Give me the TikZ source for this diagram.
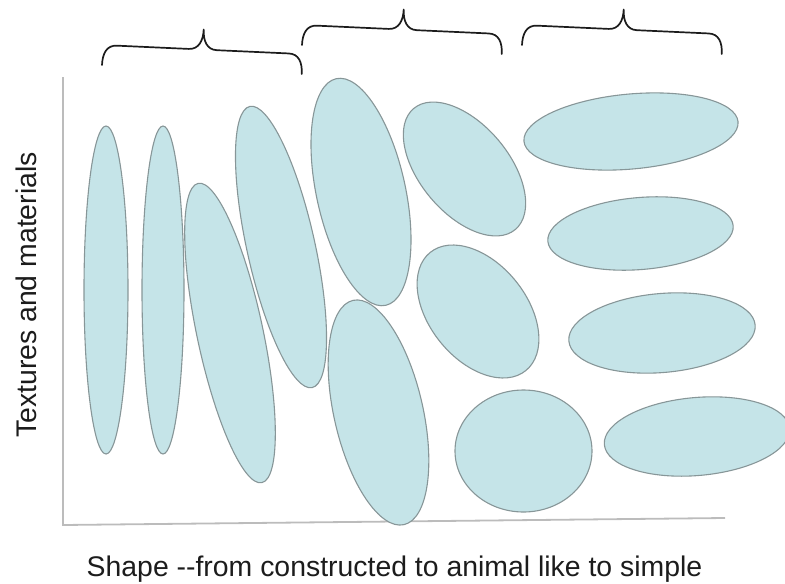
\documentclass[tikz,border=0pt]{standalone}
\usepackage{fontspec}
\setmainfont{Liberation Sans}
\usetikzlibrary{shapes.geometric}
\definecolor{blobfill}{RGB}{197,228,232}
\definecolor{blobline}{RGB}{135,150,152}
\definecolor{axisgray}{RGB}{188,188,188}
\definecolor{inkcol}{RGB}{28,28,28}
\tikzset{
  blob/.style={ellipse, draw=blobline, fill=blobfill, line width=1.1pt, inner sep=0pt, outer sep=0pt},
  axisline/.style={draw=axisgray, line width=1.8pt},
  bracestyle/.style={draw=inkcol, line width=1.7pt, line cap=round, line join=round},
  lbl/.style={text=inkcol, inner sep=0pt, font=\fontsize{28.4}{34}\selectfont},
  mybrace/.pic={
    \draw[bracestyle] (0,0) .. controls (0,-12) and (4,-20) .. (14,-20)
      -- (86,-20) .. controls (96,-20) and (100,-29) .. (100,-40)
      .. controls (100,-29) and (104,-20) .. (114,-20)
      -- (186,-20) .. controls (196,-20) and (200,-12) .. (200,0);
  }
}
\begin{document}
\begin{tikzpicture}[x=1pt,y=-1pt]
\useasboundingbox (0,0) rectangle (785,584);
% axes
\coordinate (ytop) at (63,77);
\coordinate (O) at (63,525);
\coordinate (xend) at (725,518);
\draw[axisline] (ytop) -- (O) -- (xend);
% ellipses
\node[blob, minimum width=44pt, minimum height=328pt] (e1) at (106,290) {};
\node[blob, minimum width=42pt, minimum height=328pt] (e2) at (163,290) {};
\node[blob, minimum width=66pt, minimum height=306pt, rotate=12] (e3) at (230,333) {};
\node[blob, minimum width=68pt, minimum height=288pt, rotate=12.5] (e4) at (281,247) {};
\node[blob, minimum width=89pt, minimum height=232pt, rotate=12.3] (e5) at (361,192) {};
\node[blob, minimum width=89pt, minimum height=230pt, rotate=12.8] (e6) at (378.5,412.5) {};
\node[blob, minimum width=89pt, minimum height=158pt, rotate=40] (e7) at (464.5,169) {};
\node[blob, minimum width=97pt, minimum height=152pt, rotate=39] (e8) at (478,311.5) {};
\node[blob, minimum width=137pt, minimum height=122pt] (e9) at (523.5,451) {};
\node[blob, minimum width=215pt, minimum height=75pt, rotate=5.2] (e10) at (631,131.5) {};
\node[blob, minimum width=186pt, minimum height=72pt, rotate=4.8] (e11) at (640.5,233.5) {};
\node[blob, minimum width=187pt, minimum height=79pt, rotate=4.9] (e12) at (662,333) {};
\node[blob, minimum width=186pt, minimum height=78pt, rotate=5] (e13) at (697,436.5) {};
% braces
\pic[rotate=-2.6] at (102,65) {mybrace};
\pic[rotate=-2.6] at (302,45) {mybrace};
\pic[rotate=-2.6] at (522,45) {mybrace};
% labels
\node[lbl, anchor=base] (xlabel) at (394.5,576) {Shape -\kern0pt-from constructed to animal like to simple};
\node[lbl, anchor=base, rotate=90] (ylabel) at (36,295) {Textures and materials};
\end{tikzpicture}
\end{document}
